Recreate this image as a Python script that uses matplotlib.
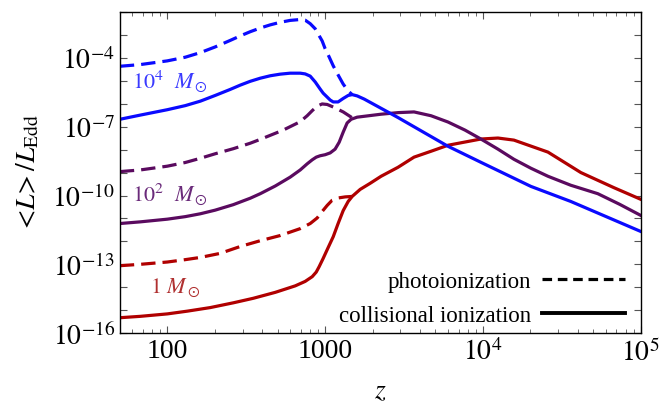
import numpy as np
import matplotlib; matplotlib.use("Agg")
import matplotlib.pyplot as plt
from matplotlib.lines import Line2D

plt.rcParams["font.family"] = ["Liberation Serif", "DejaVu Serif"]
plt.rcParams["mathtext.fontset"] = "stix"

# <L>/L_Edd versus redshift for three PBH masses (10^4, 10^2, 1 M_sun)
z_photo_4 = [50, 67.4, 100, 130, 162, 201, 250, 290, 335, 388, 449, 519, 600, 695, 747, 804, 865,
             903, 957, 1000, 1060, 1125, 1208, 1301, 1399, 1483]
L_photo_4 = [4.3e-5, 5.1e-5, 7.4e-5, 1.07e-4, 1.7e-4, 3.0e-4, 5.75e-4, 9.1e-4, 1.38e-3, 2.0e-3, 2.75e-3,
             3.55e-3, 4.3e-3, 4.7e-3, 4.4e-3, 3.1e-3, 1.85e-3, 1.1e-3, 5.5e-4, 2.5e-4, 1.1e-4, 4.5e-5,
             1.8e-5, 7.2e-6, 3.6e-6, 2.5e-6]
z_coll_4 = [50, 67.4, 100, 130, 162, 201, 250, 290, 335, 388, 449, 519, 600, 695, 747, 804, 865, 929,
            971, 1030, 1076, 1125, 1208, 1301, 1399, 1483, 1595, 1767, 2895, 6000, 9700, 20100, 36000, 1e5]
L_coll_4 = [2.1e-7, 3.2e-7, 5.5e-7, 8.3e-7, 1.3e-6, 2.3e-6, 4.2e-6, 6.5e-6, 9.5e-6, 1.3e-5, 1.66e-5,
            1.95e-5, 2.15e-5, 2.15e-5, 2.0e-5, 1.6e-5, 8.9e-6, 4.4e-6, 2.9e-6, 1.95e-6, 1.45e-6, 1.2e-6,
            1.2e-6, 1.7e-6, 2.3e-6, 2.5e-6, 2.2e-6, 1.6e-6, 2.5e-7, 1.4e-8, 2.8e-9, 2.5e-10, 5.5e-11, 2.7e-12]

z_photo_2 = [50, 67.4, 100, 130, 162, 201, 262, 335, 388, 542, 695, 769, 828, 890, 957, 1030, 1125,
             1301, 1504]
L_photo_2 = [1.1e-9, 1.3e-9, 1.9e-9, 2.75e-9, 4.2e-9, 6.6e-9, 1.1e-8, 1.9e-8, 2.8e-8, 7.1e-8, 1.65e-7,
             3.0e-7, 5.0e-7, 7.9e-7, 9.8e-7, 9.3e-7, 7.2e-7, 4.4e-7, 2.3e-7]
z_coll_2 = [50, 67.4, 100, 130, 162, 201, 262, 335, 388, 483, 600, 695, 769, 828, 878, 929, 1000,
            1076, 1156, 1227, 1301, 1378, 1460, 1595, 2262, 2895, 3656, 4688, 6000, 7690, 9700, 12440,
            15700, 20100, 25800, 36000, 53400, 73600, 1e5]
L_coll_2 = [6.0e-12, 7.1e-12, 9.3e-12, 1.2e-11, 1.6e-11, 2.3e-11, 4.0e-11, 7.6e-11, 1.2e-10, 2.6e-10,
            6.3e-10, 1.3e-9, 2.4e-9, 3.6e-9, 4.7e-9, 5.4e-9, 6.0e-9, 7.2e-9, 1.05e-8, 2.1e-8, 5.8e-8,
            1.45e-7, 2.1e-7, 2.6e-7, 3.5e-7, 4.1e-7, 4.4e-7, 3.0e-7, 1.6e-7, 7.1e-8, 2.9e-8, 1.05e-8,
            3.8e-9, 1.55e-9, 6.9e-10, 2.8e-10, 1.2e-10, 4.1e-11, 1.35e-11]

z_photo_0 = [50, 67.4, 100, 130, 162, 216, 290, 388, 519, 695, 804, 890, 957, 1030, 1107, 1208,
             1340, 1483]
L_photo_0 = [8.7e-14, 1.0e-13, 1.26e-13, 1.6e-13, 2.0e-13, 3.0e-13, 6.0e-13, 1.07e-12, 1.8e-12, 3.6e-12,
             6.0e-12, 1.05e-11, 2.0e-11, 3.7e-11, 6.2e-11, 7.8e-11, 8.7e-11, 9.1e-11]
z_coll_0 = [50, 67.4, 100, 134, 187, 262, 350, 483, 646, 747, 828, 878, 916, 971, 1045, 1125, 1208,
            1301, 1399, 1483, 1667, 1928, 2262, 2895, 3656, 4688, 6000, 9700, 12440, 15700, 25800,
            41700, 67500, 1e5]
L_coll_0 = [4.7e-16, 5.4e-16, 6.9e-16, 9.1e-16, 1.3e-15, 2.1e-15, 3.3e-15, 6.0e-15, 1.15e-14, 1.8e-14,
            2.9e-14, 4.6e-14, 7.9e-14, 1.8e-13, 5.4e-13, 1.6e-12, 6.0e-12, 2.2e-11, 5.5e-11, 9.1e-11,
            1.85e-10, 3.4e-10, 6.9e-10, 1.7e-9, 4.7e-9, 8.5e-9, 1.55e-8, 2.9e-8, 3.2e-8, 2.6e-8,
            7.8e-9, 1.0e-9, 2.2e-10, 6.8e-11]

blue, purple, red = "#0a0aff", "#5a0a5f", "#b00000"
dash = (0, (4.5, 2.2))
lw = 2.3

fig = plt.figure(figsize=(6.62, 4.06), dpi=100)
ax = fig.add_axes([0.181, 0.177, 0.787, 0.791])

ax.plot(z_coll_0, L_coll_0, color=red, lw=lw)
ax.plot(z_photo_0, L_photo_0, color=red, lw=lw, ls=dash)
ax.plot(z_coll_2, L_coll_2, color=purple, lw=lw)
ax.plot(z_photo_2, L_photo_2, color=purple, lw=lw, ls=dash)
ax.plot(z_coll_4, L_coll_4, color=blue, lw=lw)
ax.plot(z_photo_4, L_photo_4, color=blue, lw=lw, ls=dash)

ax.set_xscale("log"); ax.set_yscale("log")
ax.set_xlim(50, 1e5); ax.set_ylim(1e-16, 1e-2)

ax.set_xticks([100, 1000, 1e4, 1e5], ["100", "1000", "$10^4$", "$10^5$"])
ax.set_xticks([k * 10**e for e in range(1, 5) for k in range(2, 10) if 50 <= k * 10**e <= 1e5], minor=True)
yexp = list(range(-16, -1))
ax.set_yticks([10.0**e for e in yexp], [f"$10^{{{e}}}$" if e in (-16, -13, -10, -7, -4) else "" for e in yexp])
ax.yaxis.set_minor_locator(matplotlib.ticker.NullLocator())
ax.tick_params(which="both", direction="in", top=True, right=True, labelsize=20, color="#555555")
ax.tick_params(which="major", length=5, width=0.8)
ax.tick_params(which="minor", length=3, width=0.6)
for s in ax.spines.values():
    s.set_linewidth(1.0)

ax.set_xlabel("$z$", fontsize=20, labelpad=9)
ax.set_ylabel(r"$<\!L\!>/L_{\rm Edd}$", fontsize=20, labelpad=8)

ax.text(60, 1.0e-5, r"$10^4\ \ M_\odot$", color="#3a3aff", fontsize=16, va="center")
ax.text(60, 1.25e-10, r"$10^2\ \ M_\odot$", color="#6a2a7a", fontsize=16, va="center")
ax.text(78, 1.05e-14, r"$1\ M_\odot$", color="#b03030", fontsize=16, va="center")

handles = [Line2D([], [], color="k", lw=2.3, ls=(0, (3, 1.8))),
           Line2D([], [], color="k", lw=2.8)]
ax.legend(handles, ["photoionization", "collisional ionization"], loc="lower right",
          bbox_to_anchor=(0.987, -0.005), markerfirst=False, frameon=False, fontsize=16.5,
          handlelength=3.6, labelspacing=0.55, borderaxespad=0.0, handletextpad=0.5)

fig.savefig("out.png", dpi=100)
